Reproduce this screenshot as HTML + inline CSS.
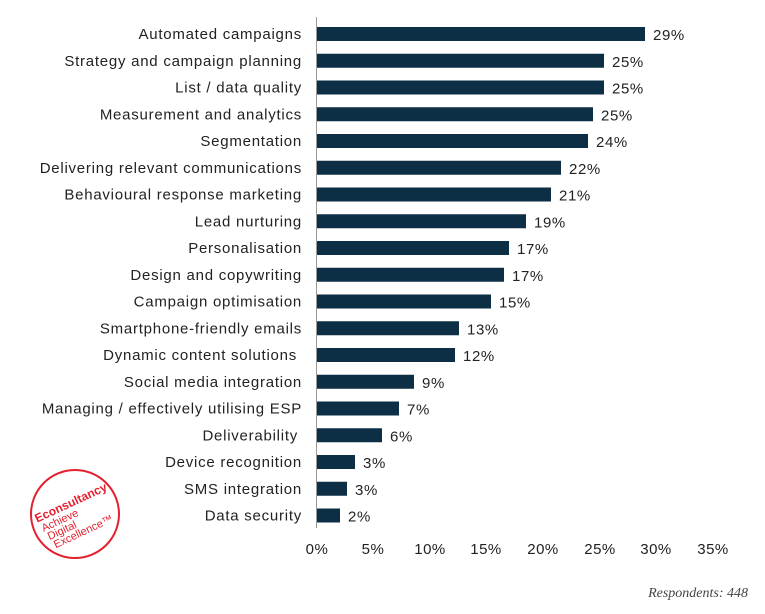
<!DOCTYPE html>
<html><head><meta charset="utf-8"><style>
body{margin:0;background:#fff;}
svg{display:block;font-family:"Liberation Sans",sans-serif;}
</style></head><body>
<svg width="765" height="614" viewBox="0 0 765 614" xmlns="http://www.w3.org/2000/svg">
<g font-size="15" fill="#222" text-anchor="end" letter-spacing="0.75">
<text x="302" y="39">Automated campaigns</text>
<text x="302" y="65.75">Strategy and campaign planning</text>
<text x="302" y="92.5">List / data quality</text>
<text x="302" y="119.25">Measurement and analytics</text>
<text x="302" y="146">Segmentation</text>
<text x="302" y="172.75">Delivering relevant communications</text>
<text x="302" y="199.5">Behavioural response marketing</text>
<text x="302" y="226.25">Lead nurturing</text>
<text x="302" y="253">Personalisation</text>
<text x="302" y="279.75">Design and copywriting</text>
<text x="302" y="306.5">Campaign optimisation</text>
<text x="302" y="333.25">Smartphone-friendly emails</text>
<text x="297" y="360">Dynamic content solutions</text>
<text x="302" y="386.75">Social media integration</text>
<text x="302" y="413.5">Managing / effectively utilising ESP</text>
<text x="298" y="440.25">Deliverability</text>
<text x="302" y="467">Device recognition</text>
<text x="302" y="493.75">SMS integration</text>
<text x="302" y="520.5">Data security</text>
</g>
<g fill="#0d2f45">
<rect x="317" y="27" width="328" height="14"/>
<rect x="317" y="53.75" width="287" height="14"/>
<rect x="317" y="80.5" width="287" height="14"/>
<rect x="317" y="107.25" width="276" height="14"/>
<rect x="317" y="134" width="271" height="14"/>
<rect x="317" y="160.75" width="244" height="14"/>
<rect x="317" y="187.5" width="234" height="14"/>
<rect x="317" y="214.25" width="209" height="14"/>
<rect x="317" y="241" width="192" height="14"/>
<rect x="317" y="267.75" width="187" height="14"/>
<rect x="317" y="294.5" width="174" height="14"/>
<rect x="317" y="321.25" width="142" height="14"/>
<rect x="317" y="348" width="138" height="14"/>
<rect x="317" y="374.75" width="97" height="14"/>
<rect x="317" y="401.5" width="82" height="14"/>
<rect x="317" y="428.25" width="65" height="14"/>
<rect x="317" y="455" width="38" height="14"/>
<rect x="317" y="481.75" width="30" height="14"/>
<rect x="317" y="508.5" width="23" height="14"/>
</g>
<g font-size="15" fill="#222" letter-spacing="0.6">
<text x="653" y="40">29%</text>
<text x="612" y="66.75">25%</text>
<text x="612" y="93.5">25%</text>
<text x="601" y="120.25">25%</text>
<text x="596" y="147">24%</text>
<text x="569" y="173.75">22%</text>
<text x="559" y="200.5">21%</text>
<text x="534" y="227.25">19%</text>
<text x="517" y="254">17%</text>
<text x="512" y="280.75">17%</text>
<text x="499" y="307.5">15%</text>
<text x="467" y="334.25">13%</text>
<text x="463" y="361">12%</text>
<text x="422" y="387.75">9%</text>
<text x="407" y="414.5">7%</text>
<text x="390" y="441.25">6%</text>
<text x="363" y="468">3%</text>
<text x="355" y="494.75">3%</text>
<text x="348" y="521.5">2%</text>
</g>
<line x1="316.5" y1="17" x2="316.5" y2="528" stroke="#999" stroke-width="1"/>
<g font-size="15" fill="#222" text-anchor="middle" letter-spacing="0.5">
<text x="317" y="554">0%</text><text x="373" y="554">5%</text><text x="430" y="554">10%</text><text x="486" y="554">15%</text><text x="543" y="554">20%</text><text x="600" y="554">25%</text><text x="656" y="554">30%</text><text x="713" y="554">35%</text>
</g>
<text x="748" y="597" text-anchor="end" font-family="Liberation Serif,serif" font-style="italic" font-size="14" fill="#444">Respondents: 448</text>
<g transform="translate(75,514)">
<circle r="44" fill="none" stroke="#e4202e" stroke-width="2"/>
<g transform="rotate(-25)" fill="#e4202e" font-size="11">
<text x="-38" y="-8" font-weight="bold" font-size="12">Econsultancy</text>
<text x="-36" y="3">Achieve</text>
<text x="-34" y="13">Digital</text>
<text x="-32" y="23">Excellence™</text>
</g>
</g>
</svg>
</body></html>
